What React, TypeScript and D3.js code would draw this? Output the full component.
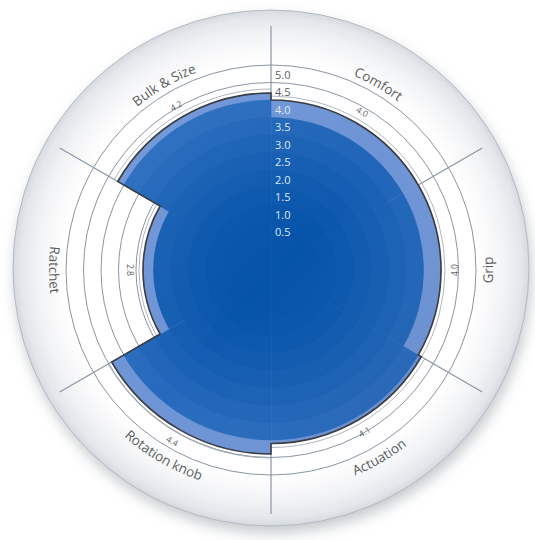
import React from "react";
import * as d3 from "d3";

const categories = ["Comfort", "Grip", "Actuation", "Rotation knob", "Ratchet", "Bulk & Size"];
const values = [4.0, 4.0, 4.1, 4.4, 2.8, 4.2];
const scaleTicks = [0.5, 1.0, 1.5, 2.0, 2.5, 3.0, 3.5, 4.0, 4.5, 5.0];
const ringValues = [3.0, 3.5, 4.0, 4.5, 5.0];

const W = 535;
const H = 540;
const CX = 271;
const CY = 270;
const FONT = "'Open Sans', 'Noto Sans', sans-serif";

const r = d3.scaleLinear().domain([0, 5]).range([30, 205]);
const angle = d3.scaleLinear().domain([0, categories.length]).range([0, 2 * Math.PI]);
const bandColor = (k: number) => d3.interpolateRgb("#0654aa", "#2f6fc2")(Math.pow(k / 8, 1.6));
const LIGHT = "#6e94d6";
const fmt = d3.format(".1f");

function polar(a: number, rad: number): [number, number] {
  return [CX + rad * Math.sin(a), CY - rad * Math.cos(a)];
}

export default function App() {
  const n = categories.length;
  const arcGen = d3.arc<any>();

  // bands: drawn outer to inner as full wedges to avoid seams
  const bands: { d: string; fill: string; key: string }[] = [];
  values.forEach((v, i) => {
    const a0 = angle(i);
    const a1 = angle(i + 1);
    const nb = Math.ceil(v / 0.5 - 1e-9);
    for (let k = nb - 1; k >= 0; k--) {
      const outer = r(Math.min((k + 1) * 0.5, v));
      const d = arcGen({ innerRadius: 0, outerRadius: outer, startAngle: a0, endAngle: a1 }) as string;
      bands.push({ d, fill: k === nb - 1 ? LIGHT : bandColor(k), key: `${i}-${k}` });
    }
  });

  // outline path
  const outline = d3.path();
  values.forEach((v, i) => {
    outline.arc(CX, CY, r(v), angle(i) - Math.PI / 2, angle(i + 1) - Math.PI / 2);
  });
  outline.closePath();

  // thin arcs outside each sector
  const thinArcs = values.map((v, i) => {
    const p = d3.path();
    const rr = r(v) + 4;
    const [x0, y0] = polar(angle(i), rr);
    p.moveTo(x0, y0);
    p.arc(CX, CY, rr, angle(i) - Math.PI / 2, angle(i + 1) - Math.PI / 2);
    return p.toString();
  });

  // label paths
  const labelPaths = categories.map((c, i) => {
    const mid = (angle(i) + angle(i + 1)) / 2;
    const deg = (mid * 180) / Math.PI;
    const flipped = deg >= 89 && deg <= 271;
    const span = (45 * Math.PI) / 180;
    const p = d3.path();
    if (!flipped) {
      const R = 211;
      const [x0, y0] = polar(mid - span, R);
      p.moveTo(x0, y0);
      p.arc(CX, CY, R, mid - span - Math.PI / 2, mid + span - Math.PI / 2, false);
    } else {
      const R = 222;
      const [x0, y0] = polar(mid + span, R);
      p.moveTo(x0, y0);
      p.arc(CX, CY, R, mid + span - Math.PI / 2, mid - span - Math.PI / 2, true);
    }
    return p.toString();
  });

  return (
    <svg width={W} height={H} style={{ position: "absolute", left: 0, top: 0, background: "#fff" }}>
      <defs>
        <filter id="blur" x="-20%" y="-20%" width="140%" height="140%">
          <feGaussianBlur stdDeviation="7" />
        </filter>
        <radialGradient id="disk" cx={CX} cy={CY - 2} r={258} gradientUnits="userSpaceOnUse">
          <stop offset="0.8" stopColor="#ffffff" />
          <stop offset="0.9" stopColor="#f3f4f6" />
          <stop offset="0.97" stopColor="#e4e7eb" />
          <stop offset="1" stopColor="#d6dadf" />
        </radialGradient>
        <linearGradient id="shade" x1="0" y1="0" x2="1" y2="1">
          <stop offset="0" stopColor="#ffffff" stopOpacity="0.06" />
          <stop offset="0.5" stopColor="#ffffff" stopOpacity="0" />
          <stop offset="1" stopColor="#000000" stopOpacity="0.08" />
        </linearGradient>
        {labelPaths.map((d, i) => (
          <path key={i} id={`lp${i}`} d={d} fill="none" />
        ))}
      </defs>

      <circle cx={CX + 2} cy={CY + 5} r={258} fill="#8d939b" opacity={0.5} filter="url(#blur)" />
      <circle cx={CX} cy={CY - 2} r={258} fill="url(#disk)" stroke="#b3bac4" strokeWidth={1} />

      {/* rings */}
      {ringValues.map((t) => (
        <circle key={t} cx={CX} cy={CY} r={r(t)} fill="none" stroke="#8a95a4" strokeWidth={1} />
      ))}

      {/* dividers (outside the bars only) */}
      {d3.range(n).map((i) => {
        const prev = values[(i - 1 + n) % n];
        const rStart = Math.max(prev, values[i]);
        const [x1, y1] = polar(angle(i), r(rStart));
        const [x2, y2] = polar(angle(i), 244);
        return <line key={i} x1={x1} y1={y1} x2={x2} y2={y2} stroke="#8a95a4" strokeWidth={1.2} />;
      })}

      {/* thin arcs */}
      {thinArcs.map((d, i) => (
        <path key={i} d={d} fill="none" stroke="#9aa3ae" strokeWidth={0.8} />
      ))}

      {/* bands */}
      <g transform={`translate(${CX},${CY})`}>
        {bands.map((b) => (
          <path key={b.key} d={b.d} fill={b.fill} stroke={b.fill} strokeWidth={0.6} />
        ))}
      </g>
      <path d={outline.toString()} fill="url(#shade)" />
      <path d={outline.toString()} fill="none" stroke="#3a3d42" strokeWidth={1.6} strokeLinejoin="miter" />

      {/* scale tick labels */}
      {scaleTicks.map((t) => (
        <text
          key={t}
          x={CX + 4}
          y={CY - r(t) + 4}
          dominantBaseline="hanging"
          fontFamily={FONT}
          fontSize={11}
          fill={t >= 4.5 ? "#5a5e63" : "#dbe6f7"}
        >
          {fmt(t)}
        </text>
      ))}

      {/* value labels */}
      {values.map((v, i) => {
        const mid = (angle(i) + angle(i + 1)) / 2;
        const deg = (mid * 180) / Math.PI;
        const flipped = deg >= 89 && deg <= 271;
        const [x, y] = polar(mid, r(v) + 13);
        const rot = flipped ? deg - 180 : deg;
        return (
          <text
            key={i}
            x={x}
            y={y}
            transform={`rotate(${rot},${x},${y})`}
            textAnchor="middle"
            dominantBaseline="central"
            fontFamily={FONT}
            fontSize={8.5}
            fill="#5a5e63"
          >
            {fmt(v)}
          </text>
        );
      })}

      {/* category labels */}
      {categories.map((c, i) => (
        <text key={c} fontFamily={FONT} fontSize={13.5} fill="#5a5e63">
          <textPath href={`#lp${i}`} startOffset="50%" textAnchor="middle">
            {c}
          </textPath>
        </text>
      ))}
    </svg>
  );
}
